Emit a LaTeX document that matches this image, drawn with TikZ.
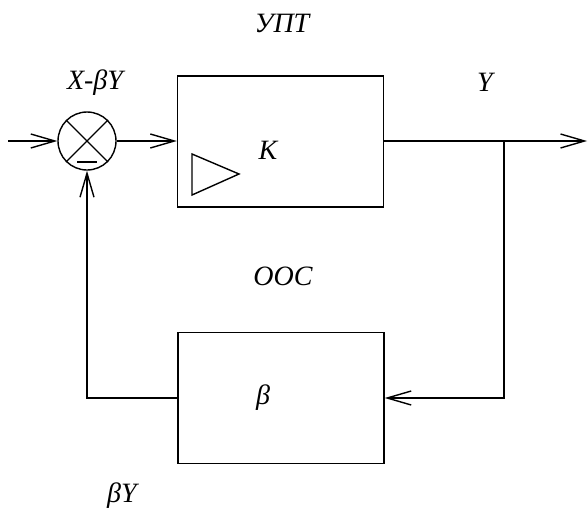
\documentclass[tikz,border=0pt]{standalone}
\usepackage{fontspec}
\setmainfont{Liberation Serif}
\usetikzlibrary{arrows.meta}
\begin{document}
\begin{tikzpicture}[x=1pt,y=-1pt,
  line width=1.4pt,
  tip/.style={-{Straight Barb[length=24pt,width=14pt,line width=1.4pt]}},
  blockbox/.style={draw,rectangle,minimum width=206pt,minimum height=131pt,inner sep=0pt},
  lbl/.style={font=\fontsize{28}{33}\selectfont\itshape,inner sep=0pt}]
\useasboundingbox (0,0) rectangle (588,511);
% summing junction
\node[draw,circle,minimum size=58pt,inner sep=0pt] (sum) at (87,141) {};
\draw (sum.north west) -- (sum.south east);
\draw (sum.north east) -- (sum.south west);
\draw (77,162) -- (97,162);
% blocks
\node[blockbox] (amp) at (280.5,141.5) {};
\node[blockbox] (fb) at (281,398) {};
\node[lbl] (K) at (268,150) {К};
\node[lbl] (beta) at (263,398) {β};
\draw (192,154) -- (239,174) -- (192,195) -- cycle;
% labels
\node[lbl] (upt) at (282,23) {УПТ};
\node[lbl] (xby) at (95,83) {X-βY};
\node[lbl] (y) at (485,82) {Y};
\node[lbl] (oos) at (283,276) {ООС};
\node[lbl] (by) at (122,496) {βY};
% coordinates
\coordinate (in) at (8,141);
\coordinate (out) at (587,141);
\coordinate (br) at (504,141);
\coordinate (brd) at (504,398);
\coordinate (fl) at (87,398);
% connectors
\draw[tip] (in) -- (sum.west);
\draw[tip] (sum.east) -- (amp.west |- sum.east);
\draw[tip] (amp.east |- out) -- (out);
\draw[tip] (br) -- (brd) -- (fb.east);
\draw[tip] (fb.west) -- (fl) -- (sum.south);
\end{tikzpicture}
\end{document}
